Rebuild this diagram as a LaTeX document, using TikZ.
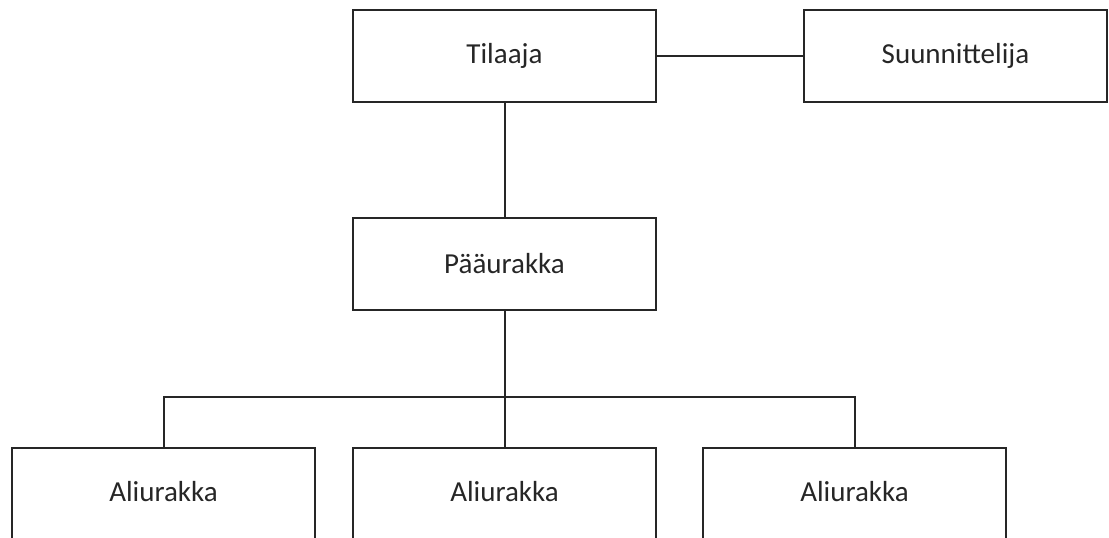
\documentclass[tikz,border=0pt]{standalone}
\usepackage{fontspec}
\setmainfont{Carlito}
\begin{document}
\begin{tikzpicture}[x=1pt,y=-1pt,
  label font/.style={font=\fontsize{29}{32}\selectfont, text=black!85},
  box/.style={draw=black!85, line width=2pt, minimum width=303pt, minimum height=92pt, inner sep=0pt, label font},
  link/.style={draw=black!85, line width=2pt}]
  \useasboundingbox (0,0) rectangle (1109,538);
  \clip (0,0) rectangle (1109,538);
  % top row
  \node[box] (tilaaja) at (504.5,56) {Tilaaja};
  \node[box] (suunn) at (955.5,56) {Suunnittelija};
  % main contractor
  \node[box] (paa) at (504.5,264) {Pääurakka};
  % subcontractors, running off the lower edge
  \node[box, minimum height=100pt] (ali1) at (163.5,498) {};
  \node[box, minimum height=100pt] (ali2) at (504.5,498) {};
  \node[box, minimum height=100pt] (ali3) at (854.5,498) {};
  \node[label font] (t1) at (163.5,492) {Aliurakka};
  \node[label font] (t2) at (504.5,492) {Aliurakka};
  \node[label font] (t3) at (854.5,492) {Aliurakka};
  \coordinate (bus) at (504.5,397);
  % connectors
  \draw[link] (tilaaja) -- (suunn);
  \draw[link] (tilaaja) -- (paa);
  \draw[link] (paa) -- (ali2);
  \draw[link] (ali1.north) |- (bus) -| (ali3.north);
\end{tikzpicture}
\end{document}
